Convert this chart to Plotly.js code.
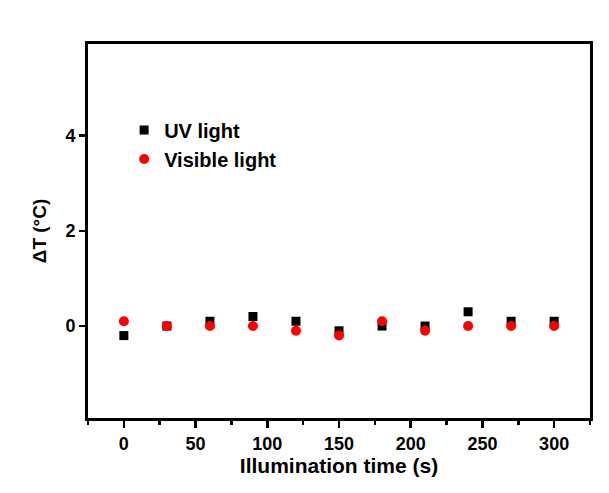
<!DOCTYPE html>
<html>
<head>
<meta charset="utf-8">
<script src="https://cdn.plot.ly/plotly-3.0.1.min.js"></script>
<style>html,body{margin:0;padding:0;background:#fff;}#chart{width:609px;height:493px;}</style>
</head>
<body>
<div id="chart"></div>
<script>
var timeS = [0, 30, 60, 90, 120, 150, 180, 210, 240, 270, 300];
var uvLight = [-0.2, 0, 0.1, 0.2, 0.1, -0.1, 0, 0, 0.3, 0.1, 0.1];
var visibleLight = [0.1, 0, 0, 0, -0.1, -0.2, 0.1, -0.1, 0, 0, 0];
var seriesNames = ['UV light', 'Visible light'];
var xTicks = [0, 50, 100, 150, 200, 250, 300];
var yTicks = [0, 2, 4];

var bold = {family: 'Liberation Sans, Arial, sans-serif', weight: 'bold', color: '#000'};

var traces = [
  {x: timeS, y: uvLight, name: seriesNames[0], type: 'scatter', mode: 'markers',
   marker: {symbol: 'square', size: 9, color: '#000'}},
  {x: timeS, y: visibleLight, name: seriesNames[1], type: 'scatter', mode: 'markers',
   marker: {symbol: 'circle', size: 10, color: '#ff0000'}}
];

var layout = {
  width: 609, height: 493,
  margin: {l: 88, r: 19, t: 44, b: 75},
  paper_bgcolor: '#fff', plot_bgcolor: '#fff',
  showlegend: true,
  legend: {x: 0.072, y: 0.822, xanchor: 'left', yanchor: 'top', bgcolor: 'rgba(0,0,0,0)',
           font: Object.assign({}, bold, {size: 20}), tracegroupgap: 0},
  xaxis: {
    range: [-25, 325], tickvals: xTicks, ticktext: xTicks.map(String),
    ticks: 'outside', ticklen: 7, tickwidth: 2.5, tickcolor: '#000',
    minor: {dtick: 25, tick0: 25, ticks: 'outside', ticklen: 4, tickwidth: 2.5, tickcolor: '#000'},
    showline: true, linewidth: 3, linecolor: '#000', mirror: true,
    showgrid: false, zeroline: false,
    tickfont: Object.assign({}, bold, {size: 18}),
    title: {text: 'Illumination time (s)', font: Object.assign({}, bold, {size: 21}), standoff: 6}
  },
  yaxis: {
    range: [-1.93, 5.92], tickvals: yTicks, ticktext: yTicks.map(String),
    ticks: 'outside', ticklen: 6, tickwidth: 2.5, tickcolor: '#000',
    showline: true, linewidth: 3, linecolor: '#000', mirror: true,
    showgrid: false, zeroline: false,
    tickfont: Object.assign({}, bold, {size: 18}),
    title: {text: 'ΔT (°C)', font: Object.assign({}, bold, {size: 19}), standoff: 14}
  }
};

Plotly.newPlot('chart', traces, layout, {displayModeBar: false, staticPlot: true});
</script>
</body>
</html>
